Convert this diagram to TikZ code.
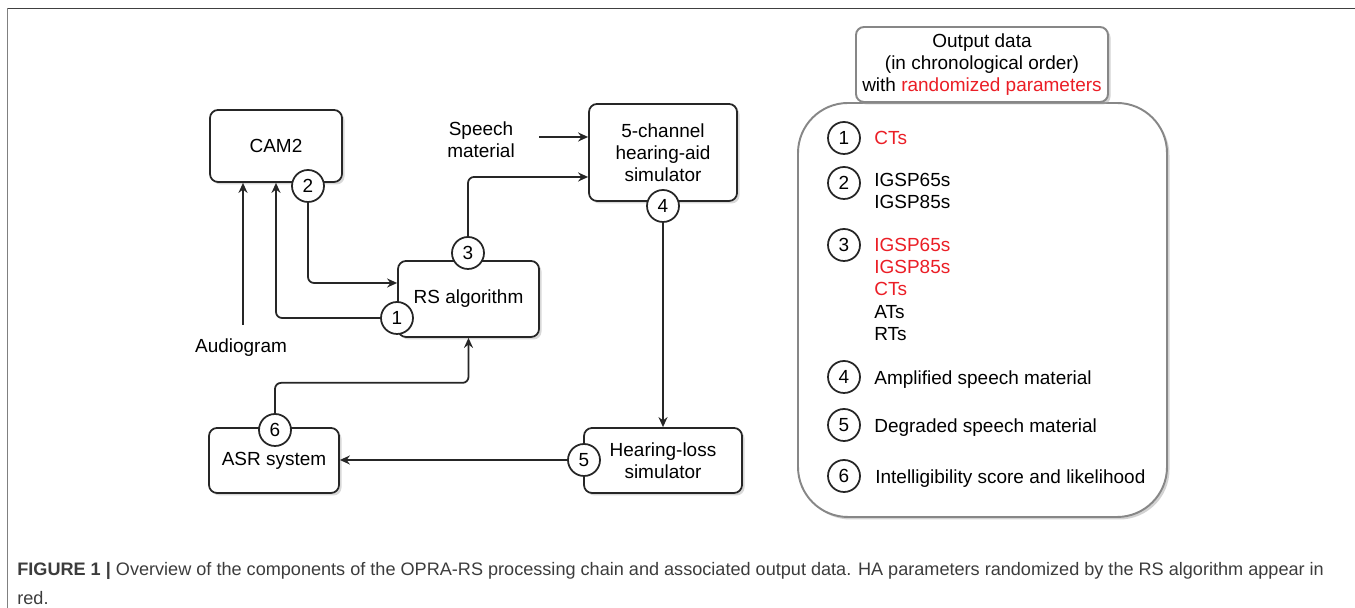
\documentclass[tikz,border=0pt]{standalone}
\usepackage{fontspec}
\setmainfont{Liberation Sans}
\newfontfamily\capfont{Liberation Sans}
\usetikzlibrary{arrows.meta,positioning,calc,shadows}

\definecolor{randred}{RGB}{235,30,38}
\definecolor{panelgrey}{RGB}{135,135,135}
\definecolor{capgrey}{RGB}{60,60,60}

\tikzset{
  box/.style={draw=black!85, line width=1pt, rounded corners=0.16cm, fill=white,
    drop shadow={shadow xshift=0.05cm, shadow yshift=-0.05cm, fill=black!30, opacity=0.5},
    align=center, font=\fontsize{10.8}{12.6}\selectfont, inner sep=0pt},
  panelbox/.style={draw=panelgrey, line width=1.1pt, fill=white,
    drop shadow={shadow xshift=0.05cm, shadow yshift=-0.05cm, fill=black!35, opacity=0.5}},
  num/.style={draw=black!85, line width=1pt, circle, fill=white, minimum size=0.64cm,
    inner sep=0pt, font=\fontsize{10.8}{12.6}\selectfont},
  lbl/.style={align=center, font=\fontsize{10.8}{12.6}\selectfont, inner sep=0pt},
  item/.style={align=left, anchor=north west, font=\fontsize{10.8}{12.6}\selectfont, inner sep=0pt},
  conn/.style={line width=1pt, draw=black!85, -{Stealth[length=0.2cm,width=0.18cm]},
    rounded corners=0.12cm},
}

\begin{document}
\begin{tikzpicture}
\useasboundingbox (0,0) rectangle (27.1,12.16);

% frame
\draw[line width=1.1pt, black!75] (0.15,11.99) -- (27.1,11.99);
\draw[line width=1.1pt, black!50] (0.15,11.99) -- (0.15,0);

% blocks
\node[box, minimum width=2.64cm, minimum height=1.44cm] (cam) at (5.52,9.24) {CAM2};
\node[box, minimum width=2.82cm, minimum height=1.52cm] (rs) at (9.37,6.18) {RS algorithm};
\node[box, minimum width=2.96cm, minimum height=1.94cm] (hasim) at (13.26,9.11) {5-channel\\hearing-aid\\simulator};
\node[box, minimum width=3.16cm, minimum height=1.3cm] (hlsim) at (13.26,2.95) {Hearing-loss\\simulator};
\node[box, minimum width=2.6cm, minimum height=1.3cm] (asr) at (5.48,2.95) {ASR system};

% output markers
\node[num] (n1) at (7.94,5.80) {1};
\node[num] (n2) at (6.16,8.44) {2};
\node[num] (n3) at (9.36,7.10) {3};
\node[num] (n4) at (13.26,8.04) {4};
\node[num] (n5) at (11.68,2.96) {5};
\node[num] (n6) at (5.50,3.56) {6};

% inputs
\node[lbl] (speech) at (9.62,9.36) {Speech\\material};
\node[lbl] (audio) at (4.82,5.20) {Audiogram};
\coordinate (sp) at (10.78,9.42);
\coordinate (au) at (4.86,5.66);

% connectors
\draw[conn] (sp) -- (sp -| hasim.west);
\draw[conn] (au) -- (au |- cam.south);
\draw[conn] (n1.west) -| (cam.south);
\draw[conn] (n2.south) |- ($(rs.west)+(0,0.32)$);
\draw[conn] (n3.north) |- ($(hasim.west)+(0,-0.49)$);
\draw[conn] (n4.south) -- (hlsim.north);
\draw[conn] (n5.west) -- (n5.west -| asr.east);
\draw[conn] (n6.north) |- ($(rs.south)+(0,-0.9)$) -- (rs.south);

% output data panel
\node[panelbox, rounded corners=1cm, minimum width=7.38cm, minimum height=8.28cm] (panel) at (19.65,5.96) {};
\node[panelbox, lbl, rounded corners=0.16cm, minimum width=5.04cm, minimum height=1.5cm] (head) at (19.64,10.87)
  {Output data\\(in chronological order)\\with \textcolor{randred}{randomized parameters}};

\node[num] (o1) at (16.88,9.40) {1};
\node[num] (o2) at (16.88,8.50) {2};
\node[num] (o3) at (16.88,7.26) {3};
\node[num] (o4) at (16.88,4.62) {4};
\node[num] (o5) at (16.88,3.66) {5};
\node[num] (o6) at (16.88,2.64) {6};

\node[item, text=randred] (t1) at (17.48,9.54) {CTs};
\node[item] (t2) at (17.48,8.70) {IGSP65s\\IGSP85s};
\node[item] (t3) at (17.48,7.40) {\textcolor{randred}{IGSP65s}\\\textcolor{randred}{IGSP85s}\\\textcolor{randred}{CTs}\\ATs\\RTs};
\node[item] (t4) at (17.48,4.76) {Amplified speech material};
\node[item] (t5) at (17.48,3.80) {Degraded speech material};
\node[item] (t6) at (17.50,2.78) {Intelligibility score and likelihood};

% caption
\node[anchor=north west, align=left, inner sep=0pt, text=capgrey,
  font=\capfont\fontsize{10.3}{16.2}\selectfont] (cap) at (0.34,0.91)
  {\textbf{FIGURE 1 |} Overview of the components of the OPRA-RS processing chain and associated output data. HA parameters randomized by the RS algorithm appear in\\red.};
\end{tikzpicture}
\end{document}
